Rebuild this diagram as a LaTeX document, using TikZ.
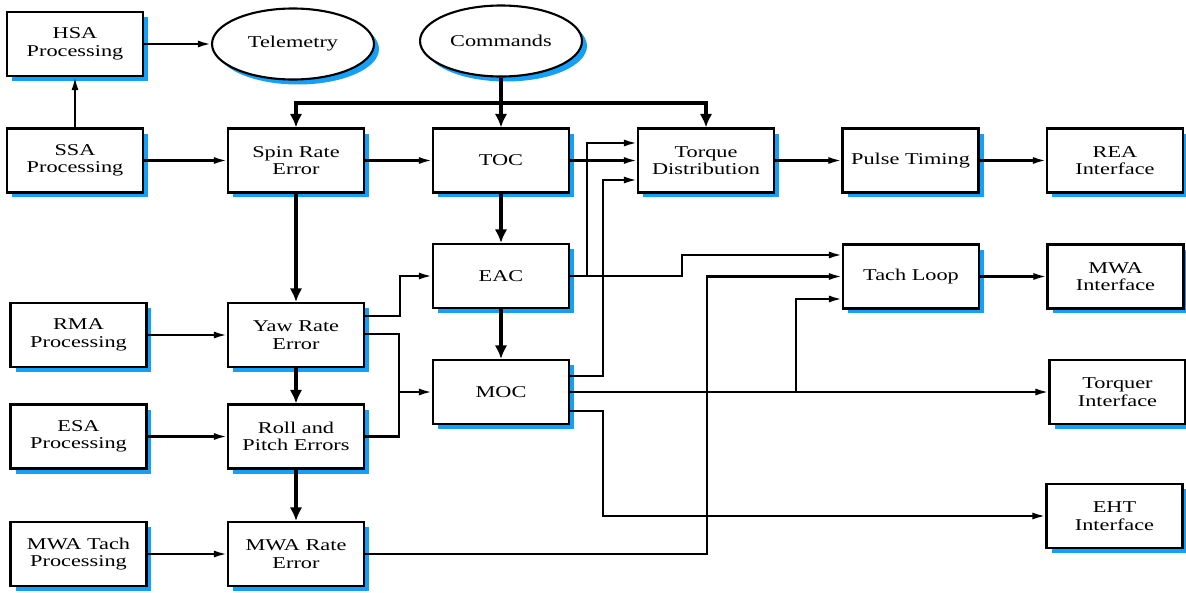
\documentclass[tikz,border=0pt]{standalone}
\usepackage{fontspec}
\setmainfont{Liberation Serif}[FakeStretch=1.35]
\usetikzlibrary{arrows.meta,shapes.geometric,shadows}

\definecolor{shadowblue}{RGB}{20,160,250}

\tikzset{
  block/.style={draw, fill=white, line width=1.2pt, minimum width=2.72cm, minimum height=1.28cm,
    align=center, font=\fontsize{9.4}{10}\selectfont,
    drop shadow={shadow xshift=0.1cm, shadow yshift=-0.1cm, fill=shadowblue, opacity=1}},
  terminal/.style={block, ellipse, minimum width=3.24cm, minimum height=1.42cm, inner sep=0pt},
  flow/.style={line width=1.2pt, -{Latex[length=2.6mm,width=1.4mm]}},
  bigflow/.style={line width=2.3pt, -{Latex[length=2.7mm,width=2.5mm]}},
  wire/.style={line width=1.2pt},
}

\begin{document}
\begin{tikzpicture}[x=0.02cm,y=-0.02cm]
    \useasboundingbox (0,0) rectangle (1186,592);
    % sensors
    \node[block] (hsa) at (75,44) {HSA\\Processing};
    \node[block] (ssa) at (75,160.5) {SSA\\Processing};
    \node[block] (rma) at (78.5,335) {RMA\\Processing};
    \node[block] (esa) at (78.5,436.5) {ESA\\Processing};
    \node[block] (mwatach) at (78.5,554) {MWA Tach\\Processing};
    \node[terminal] (telemetry) at (293,44) {Telemetry};
    \node[terminal] (commands) at (501,41) {Commands};
    % errors
    \node[block] (spin) at (296,160.5) {Spin Rate\\Error};
    \node[block] (yaw) at (296,335) {Yaw Rate\\Error};
    \node[block] (roll) at (296,436.5) {Roll and\\Pitch Errors};
    \node[block] (mwarate) at (296,554) {MWA Rate\\Error};
    % control
    \node[block] (toc) at (501,160.5) {TOC};
    \node[block] (eac) at (501,276) {EAC};
    \node[block] (moc) at (501,392) {MOC};
    \node[block] (torque) at (706,160.5) {Torque\\Distribution};
    \node[block] (pulse) at (910.5,160.5) {Pulse Timing};
    \node[block] (tach) at (911,276.5) {Tach Loop};
    % interfaces
    \node[block] (rea) at (1115,160.5) {REA\\Interface};
    \node[block] (mwaif) at (1115.5,276.5) {MWA\\Interface};
    \node[block] (torquer) at (1117.5,392) {Torquer\\Interface};
    \node[block] (eht) at (1114.5,516) {EHT\\Interface};

    \coordinate (cmdbus) at (501,103);
    \coordinate (merge) at (399,392);
    \coordinate (tapmoc) at (796,392);

    \draw[flow] (hsa) -- (telemetry);
    \draw[flow] (ssa) -- (hsa);
    \draw[flow] (ssa) -- (spin);
    \draw[flow] (spin) -- (toc);
    \draw[flow] (toc) -- (torque);
    \draw[flow] (torque) -- (pulse);
    \draw[flow] (pulse) -- (rea);
    \draw[flow] (tach) -- (mwaif);
    \draw[flow] (rma) -- (yaw);
    \draw[flow] (esa) -- (roll);
    \draw[flow] (mwatach) -- (mwarate);

    \draw[bigflow] (commands) -- (toc);
    \draw[bigflow] (cmdbus) -| (spin);
    \draw[bigflow] (cmdbus) -| (torque);
    \draw[bigflow] (spin) -- (yaw);
    \draw[bigflow] (yaw) -- (roll);
    \draw[bigflow] (roll) -- (mwarate);
    \draw[bigflow] (toc) -- (eac);
    \draw[bigflow] (eac) -- (moc);

    \draw[flow] (yaw.east |- 0,316) -- (400,316) |- (eac);
    \draw[wire] (yaw.east |- 0,334) -| (merge) |- (roll);
    \draw[flow] (merge) -- (moc);
    \draw[flow] (eac.east) -- (587,276) |- (torque.west |- 0,143);
    \draw[flow] (eac.east) -- (682,276) |- (tach.west |- 0,255);
    \draw[flow] (moc.east |- 0,376) -| (603,180) -- (torque.west |- 0,180);
    \draw[flow] (moc) -- (torquer);
    \draw[flow] (tapmoc) |- (tach.west |- 0,299);
    \draw[flow] (moc.east |- 0,411) -| (603,516) -- (eht);
    \draw[flow] (mwarate.east) -- (707,554) |- (tach);
\end{tikzpicture}
\end{document}
